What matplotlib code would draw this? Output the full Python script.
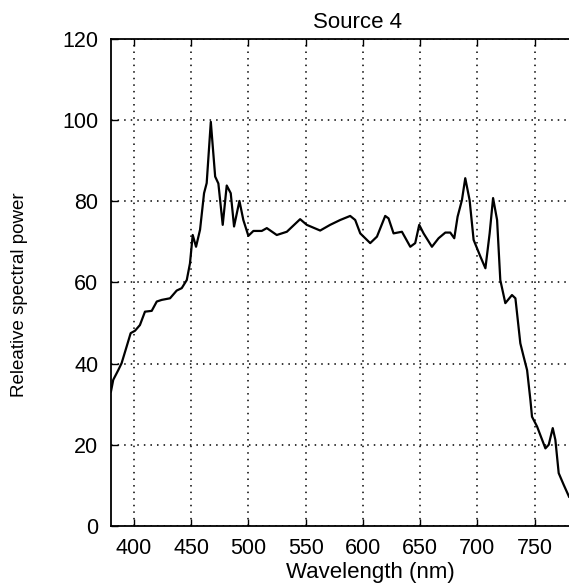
import numpy as np
import matplotlib
matplotlib.use('Agg')
from matplotlib import pyplot as plt

plt.rcParams['font.family'] = ['Liberation Sans', 'DejaVu Sans']

# spectrum (nm, relative power)
wavelength = [380, 382, 386.4, 389.3, 393.7, 397.2, 401, 405.3, 409.7, 415.6, 420, 424.3,
              431.6, 437.4, 441.8, 446.2, 449, 451.4, 454.3, 457.8, 461.3, 463.6, 467.2,
              471, 473.8, 477.6, 481.1, 484.6, 487.5, 492.2, 495.6, 500, 504.4, 511.7,
              516.1, 524.8, 533.6, 545.2, 551, 562.7, 571.4, 580.2, 588.9, 593.3, 597.7,
              606.4, 612.3, 619.5, 622.4, 626.8, 634.1, 641.4, 645.7, 649.2, 653, 660.3,
              666.1, 672, 676.3, 679.8, 682.7, 686.5, 689.4, 693.2, 696.7, 702.6, 707,
              710.7, 713.7, 717.2, 720, 724.4, 730.2, 733.2, 737.5, 740.4, 743.4, 746.3,
              747.7, 752.1, 759.4, 762.3, 765.8, 768.1, 771, 775.4, 780]
power = [33.1, 36, 38.4, 40.1, 44.2, 47.5, 48.1, 49.5, 52.8, 53, 55.3, 55.7,
         56.1, 58, 58.6, 60.6, 64.7, 71.7, 68.8, 73, 82, 84.5, 99.6,
         86.1, 84.4, 74.2, 83.9, 82, 73.8, 80.1, 75.4, 71.5, 72.7, 72.7,
         73.4, 71.7, 72.5, 75.6, 74.2, 72.8, 74.2, 75.4, 76.4, 75.4, 72.1,
         69.7, 71.3, 76.4, 75.8, 72.1, 72.5, 68.8, 69.7, 74.2, 72.1, 68.8,
         70.9, 72.3, 72.3, 70.9, 76.2, 80.3, 85.7, 80.3, 70.5, 66.4, 63.5,
         72.1, 80.8, 75.4, 60.6, 54.9, 56.9, 56.1, 45, 41.7, 38.4, 31,
         26.9, 24.5, 19.1, 20, 24.1, 21.2, 13, 10.1, 7.2]

xticks = [400, 450, 500, 550, 600, 650, 700, 750]
yticks = [0, 20, 40, 60, 80, 100, 120]

fig = plt.figure(figsize=(5.69, 5.83), dpi=100)
ax = fig.add_axes([0.195, 0.098, 0.805, 0.835])
ax.plot(wavelength, power, color='black', lw=1.6, solid_joinstyle='round')

ax.set_xlim(380, 780)
ax.set_ylim(0, 120)
ax.set_xticks(xticks)
ax.set_yticks(yticks)
ax.tick_params(direction='in', length=5, width=1.0, labelsize=15.5, pad=9, top=True)
ax.grid(True, color='black', linestyle=(0, (1, 3.3)), linewidth=1.1)
for s in ax.spines.values():
    s.set_linewidth(1.3)
ax.spines['right'].set_visible(False)

ax.set_title('Source 4', fontsize=16, pad=8, x=0.538)
ax.set_xlabel('Wavelength (nm)', fontsize=16, labelpad=2, x=0.567)
ax.set_ylabel('Releative spectral power', fontsize=13.5)
ax.yaxis.set_label_coords(-0.181, 0.474)

fig.savefig('out.png', dpi=100)
